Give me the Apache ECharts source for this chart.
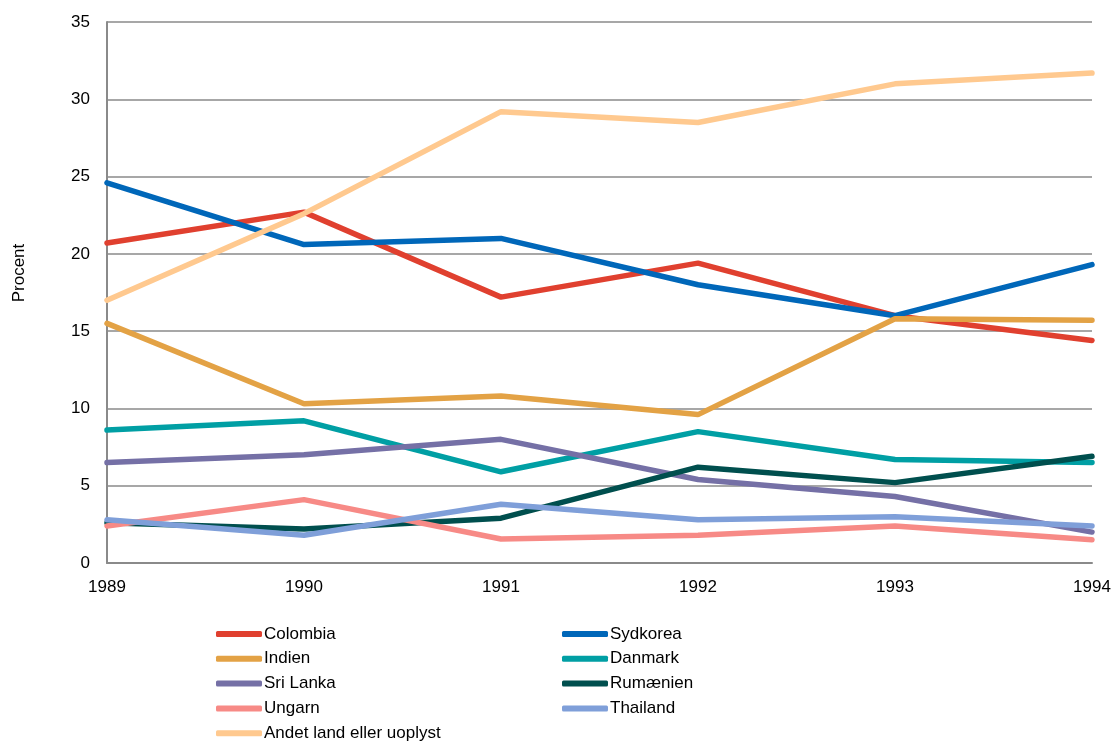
<!DOCTYPE html>
<html>
<head>
<meta charset="utf-8">
<script src="https://cdn.jsdelivr.net/npm/echarts@6/dist/echarts.min.js"></script>
<style>
  html, body { margin: 0; padding: 0; background: #fff; }
  #chart { width: 1117px; height: 745px; }
</style>
</head>
<body>
<div id="chart"></div>
<script>
const years = ['1989', '1990', '1991', '1992', '1993', '1994'];
const colombia = [20.7, 22.7, 17.2, 19.4, 16.0, 14.4];
const sydkorea = [24.6, 20.6, 21.0, 18.0, 16.0, 19.3];
const indien = [15.5, 10.3, 10.8, 9.6, 15.8, 15.7];
const danmark = [8.6, 9.2, 5.9, 8.5, 6.7, 6.5];
const sriLanka = [6.5, 7.0, 8.0, 5.4, 4.3, 2.0];
const rumaenien = [2.6, 2.2, 2.9, 6.2, 5.2, 6.9];
const ungarn = [2.4, 4.1, 1.55, 1.8, 2.4, 1.5];
const thailand = [2.8, 1.8, 3.8, 2.8, 3.0, 2.4];
const andet = [17.0, 22.6, 29.2, 28.5, 31.0, 31.7];

const seriesList = [
  { name: 'Colombia', data: colombia, color: '#E0402F' },
  { name: 'Sydkorea', data: sydkorea, color: '#0067B9' },
  { name: 'Indien', data: indien, color: '#E3A245' },
  { name: 'Danmark', data: danmark, color: '#009FA4' },
  { name: 'Sri Lanka', data: sriLanka, color: '#7570A6' },
  { name: 'Rumænien', data: rumaenien, color: '#004F4E' },
  { name: 'Ungarn', data: ungarn, color: '#F78A86' },
  { name: 'Thailand', data: thailand, color: '#7F9FD9' },
  { name: 'Andet land eller uoplyst', data: andet, color: '#FFC98F' }
];

const font = 'Liberation Sans, Arial, sans-serif';
const legendBase = {
  orient: 'vertical',
  top: 624,
  height: 121,
  padding: 0,
  itemWidth: 46,
  itemHeight: 6,
  itemGap: 4.8,
  icon: 'roundRect',
  textStyle: { fontFamily: font, fontSize: 17, color: '#000', lineHeight: 20, padding: [0, 0, 0, -3] }
};

const chart = echarts.init(document.getElementById('chart'));
chart.setOption({
  animation: false,
  grid: { left: 107, right: 25, top: 22, height: 541 },
  legend: [
    Object.assign({}, legendBase, { left: 216, data: ['Colombia', 'Indien', 'Sri Lanka', 'Ungarn', 'Andet land eller uoplyst'] }),
    Object.assign({}, legendBase, { left: 562, data: ['Sydkorea', 'Danmark', 'Rumænien', 'Thailand'] })
  ],
  graphic: [{
    type: 'text',
    x: 19,
    y: 273,
    rotation: Math.PI / 2,
    style: { text: 'Procent', fontFamily: font, fontSize: 17, fill: '#000', align: 'center', verticalAlign: 'middle' }
  }],
  xAxis: {
    type: 'category',
    data: years,
    boundaryGap: false,
    axisLine: { lineStyle: { color: '#8a8a8a', width: 2 } },
    axisTick: { show: false },
    axisLabel: { fontFamily: font, fontSize: 17, color: '#000', margin: 16 }
  },
  yAxis: {
    type: 'value',
    min: 0,
    max: 35,
    interval: 5,
    axisLine: { show: true, lineStyle: { color: '#8a8a8a', width: 2 } },
    axisTick: { show: false },
    axisLabel: { fontFamily: font, fontSize: 17, color: '#000', margin: 17 },
    splitLine: { lineStyle: { color: '#8a8a8a', width: 1.5 } }
  },
  series: seriesList.map(s => ({
    name: s.name,
    type: 'line',
    data: s.data,
    showSymbol: false,
    symbol: 'none',
    color: s.color,
    lineStyle: { width: 5.5, color: s.color, cap: 'round' }
  }))
});
</script>
</body>
</html>
